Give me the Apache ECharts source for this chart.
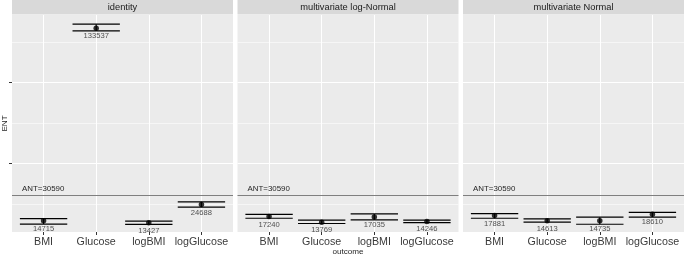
<!DOCTYPE html>
<html>
<head>
<meta charset="utf-8">
<script src="https://cdn.jsdelivr.net/npm/echarts@6/dist/echarts.min.js"></script>
<style>html,body{margin:0;padding:0;background:#fff;}#c{width:685px;height:255px;}</style>
</head>
<body>
<div id="c"></div>
<script>
const categories = ['BMI', 'Glucose', 'logBMI', 'logGlucose'];
const panelNames = ['identity', 'multivariate log-Normal', 'multivariate Normal'];
const antValue = 30590;
// identity
const identityX = [1, 2, 3, 4];
const identityEst = [14715, 133537, 13427, 24688];
const identityLow = [12600, 131900, 12400, 23100];
const identityHigh = [15950, 136000, 14400, 26350];
// multivariate log-Normal
const logNormalX = [1, 2, 3, 4];
const logNormalEst = [17240, 13769, 17035, 14246];
const logNormalLow = [16200, 12950, 15200, 13450];
const logNormalHigh = [18650, 15000, 18900, 15050];
// multivariate Normal
const normalX = [1, 2, 3, 4];
const normalEst = [17881, 14613, 14735, 18610];
const normalLow = [16200, 13800, 12500, 16950];
const normalHigh = [19100, 15850, 16850, 19850];
// axis ticks
const yMajorTicks = [50000, 100000];
const yMinorTicks = [25000, 75000, 125000];
const xTicks = [1, 2, 3, 4];

const panelData = [
  {x: identityX, est: identityEst, low: identityLow, high: identityHigh},
  {x: logNormalX, est: logNormalEst, low: logNormalLow, high: logNormalHigh},
  {x: normalX, est: normalEst, low: normalLow, high: normalHigh}
];

const FONT = 'Liberation Sans, Arial, sans-serif';
const panelLefts = [12, 237.5, 463];
const panelW = 221;
const panelTop = 15;
const panelH = 217;
const yMin = 7715, yMax = 141670;

const grids = [], xAxes = [], yAxes = [], series = [], graphics = [];
panelNames.forEach((name, i) => {
  grids.push({left: panelLefts[i], top: panelTop, width: panelW, height: panelH,
    show: true, backgroundColor: '#EBEBEB', borderWidth: 0});
  xAxes.push({type: 'value', gridIndex: i, min: 0.4, max: 4.6,
    axisLine: {show: false},
    splitLine: {show: false},
    axisTick: {show: true, customValues: xTicks, length: 3, lineStyle: {color: '#333', width: 1}},
    axisLabel: {show: true, customValues: xTicks, margin: 5, fontSize: 10.7, color: '#3A3A3A', fontFamily: FONT,
      formatter: v => categories[Math.round(v) - 1] || ''}
  });
  yAxes.push({type: 'value', gridIndex: i, min: yMin, max: yMax,
    axisLine: {show: false},
    splitLine: {show: false},
    axisTick: {show: i === 0, customValues: yMajorTicks, length: 3, lineStyle: {color: '#333', width: 1}},
    axisLabel: {show: false}
  });
  const gl = [];
  yMinorTicks.forEach(v => gl.push({yAxis: v, lineStyle: {width: 0.55}}));
  yMajorTicks.forEach(v => gl.push({yAxis: v, lineStyle: {width: 1.1}}));
  xTicks.forEach(v => gl.push({xAxis: v, lineStyle: {width: 1.1}}));
  series.push({type: 'scatter', xAxisIndex: i, yAxisIndex: i, data: [], silent: true, z: 1,
    markLine: {silent: true, z: 1, symbol: 'none', animation: false, label: {show: false},
      lineStyle: {color: '#FFFFFF', type: 'solid'}, emphasis: {disabled: true}, data: gl}});
  series.push({type: 'scatter', xAxisIndex: i, yAxisIndex: i, data: [], silent: true, z: 2,
    markLine: {silent: true, z: 2, symbol: 'none', animation: false,
      lineStyle: {color: '#7F7F7F', type: 'solid', width: 1.1},
      label: {show: true, position: 'insideStartTop', formatter: 'ANT=' + antValue,
        fontSize: 7.9, color: '#262626', fontFamily: FONT, distance: [10, 2]},
      emphasis: {disabled: true},
      data: [{yAxis: antValue}]}});
  const d = panelData[i];
  series.push({type: 'custom', xAxisIndex: i, yAxisIndex: i, z: 3, silent: true, animation: false,
    data: d.x.map((x, k) => [x, d.low[k], d.high[k]]),
    encode: {x: 0, y: [1, 2]},
    renderItem: (params, api) => {
      const x = api.value(0), lo = api.value(1), hi = api.value(2);
      const pLo = api.coord([x, lo]), pHi = api.coord([x, hi]);
      const half = api.size([0.9, 0])[0] / 2;
      const st = {stroke: '#000', lineWidth: 1.2};
      return {type: 'group', children: [
        {type: 'line', shape: {x1: pLo[0] - half, y1: pLo[1], x2: pLo[0] + half, y2: pLo[1]}, style: st},
        {type: 'line', shape: {x1: pHi[0] - half, y1: pHi[1], x2: pHi[0] + half, y2: pHi[1]}, style: st},
        {type: 'line', shape: {x1: pLo[0], y1: pLo[1], x2: pHi[0], y2: pHi[1]}, style: st}
      ]};
    }});
  series.push({type: 'scatter', xAxisIndex: i, yAxisIndex: i, z: 4, silent: true, animation: false,
    symbol: 'circle', symbolSize: 5.5, itemStyle: {color: '#000'},
    data: d.x.map((x, k) => [x, d.est[k]]),
    label: {show: true, position: 'bottom', distance: 1.2, fontSize: 7.6, color: '#262626', fontFamily: FONT,
      formatter: p => String(p.value[1])}});
  graphics.push({type: 'rect', shape: {x: panelLefts[i], y: 0, width: panelW, height: 14.5},
    style: {fill: '#D9D9D9'}, silent: true});
  graphics.push({type: 'text', x: panelLefts[i] + panelW / 2, y: 7.5, silent: true,
    style: {text: name, fill: '#1A1A1A', font: '9.3px ' + FONT, align: 'center', verticalAlign: 'middle'}});
});
graphics.push({type: 'text', x: 348, y: 251.5, silent: true,
  style: {text: 'outcome', fill: '#262626', font: '8.1px ' + FONT, align: 'center', verticalAlign: 'middle'}});
graphics.push({type: 'text', x: 5, y: 123.5, rotation: Math.PI / 2, silent: true,
  style: {text: 'ENT', fill: '#262626', font: '8.1px ' + FONT, align: 'center', verticalAlign: 'middle'}});

const chart = echarts.init(document.getElementById('c'), null, {renderer: 'canvas'});
chart.setOption({
  animation: false,
  backgroundColor: '#FFFFFF',
  textStyle: {fontFamily: FONT},
  grid: grids, xAxis: xAxes, yAxis: yAxes, series: series, graphic: graphics
});
</script>
</body>
</html>
